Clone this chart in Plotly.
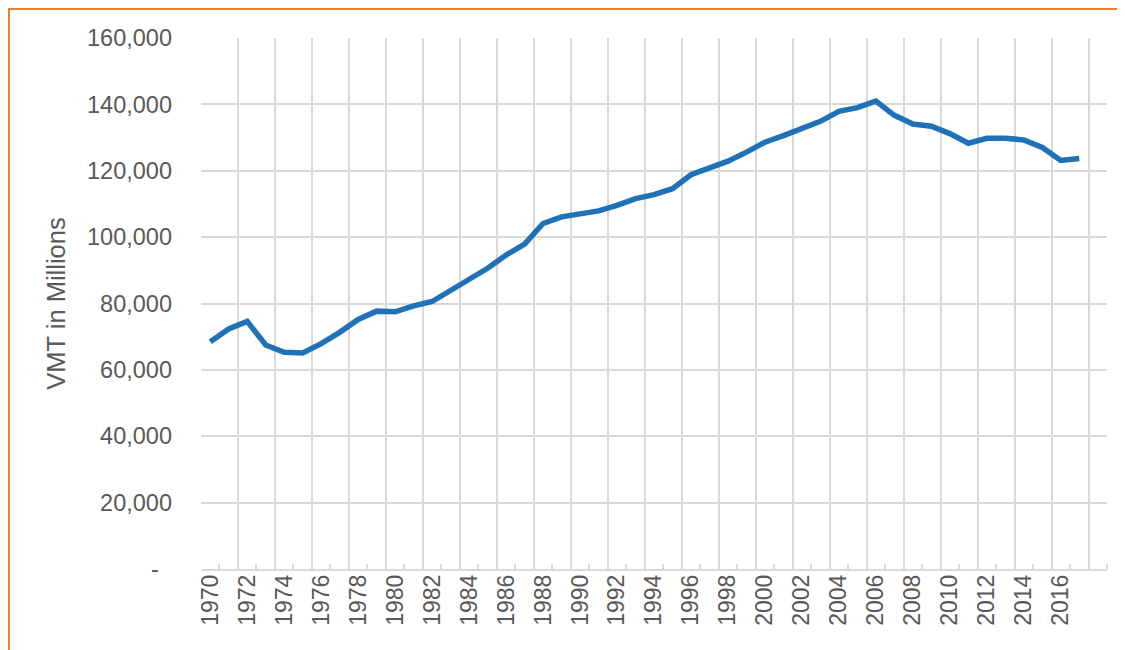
import plotly.graph_objects as go

years = list(range(1970, 2018))
vmt = [68500, 72300, 74600, 67500, 65300, 65100, 67900, 71300, 75200, 77700,
       77500, 79300, 80600, 83900, 87200, 90600, 94600, 97900, 104100, 106100,
       107000, 107900, 109600, 111600, 112800, 114600, 118800, 120900, 122900, 125600,
       128600, 130600, 132700, 134900, 137900, 139000, 141000, 136700, 134100, 133400,
       131200, 128300, 129800, 129800, 129300, 127000, 123100, 123700]

x_tick_vals = list(range(1970, 2017, 2))
x_tick_text = [str(y) for y in x_tick_vals]
y_tick_vals = [0, 20000, 40000, 60000, 80000, 100000, 120000, 140000, 160000]
y_tick_text = ["-\u00a0\u00a0", "20,000", "40,000", "60,000", "80,000",
               "100,000", "120,000", "140,000", "160,000"]

TXT = "#595959"
GRID = "#d9d9d9"
FONT = "Liberation Sans, Arial, sans-serif"

fig = go.Figure()
fig.add_trace(go.Scatter(x=years, y=vmt, mode="lines",
                         line=dict(color="#1f72b8", width=5.5),
                         hoverinfo="x+y", showlegend=False))
# invisible trace to anchor label axis
fig.add_trace(go.Scatter(x=[years[0]], y=[vmt[0]], xaxis="x2", mode="markers",
                         marker=dict(opacity=0), showlegend=False, hoverinfo="skip"))

W, H = 1125, 650
L, R, T, B = 193, 26, 30, 89
pw, ph = W - L - R, H - T - B

fig.update_layout(
    width=W, height=H,
    margin=dict(l=L, r=R, t=T, b=B, autoexpand=False),
    paper_bgcolor="white", plot_bgcolor="white",
    font=dict(family=FONT, color=TXT, size=23),
    xaxis=dict(
        range=[1969.5, 2018.5], tick0=1969.5, dtick=2,
        showticklabels=False, showgrid=True, gridcolor=GRID, gridwidth=2,
        ticks="", showline=True, linecolor=GRID, linewidth=2,
        minor=dict(tick0=1969.5, dtick=1, ticks="inside", ticklen=5,
                   tickcolor=GRID, tickwidth=2, showgrid=False),
        zeroline=False, fixedrange=True,
    ),
    xaxis2=dict(
        overlaying="x", side="bottom", anchor="y",
        range=[1969.5, 2018.5], tickmode="array",
        tickvals=x_tick_vals, ticktext=x_tick_text, tickangle=-90,
        showgrid=False, showline=False, ticks="", zeroline=False,
        ticklabelstandoff=0, tickfont=dict(size=23, color=TXT),
    ),
    yaxis=dict(
        range=[0, 160000], tickmode="array",
        tickvals=y_tick_vals, ticktext=y_tick_text,
        showgrid=True, gridcolor=GRID, gridwidth=2,
        showline=False, zeroline=False, ticks="",
        ticklabelstandoff=28, tickfont=dict(size=23.5, color=TXT),
        title=dict(text="VMT in Millions", font=dict(size=25.5, color=TXT), standoff=14),
    ),
    shapes=[dict(type="rect", xref="paper", yref="paper",
                 x0=(1 - L) / pw, x1=1.2, y0=-0.4, y1=1 + (T - 1) / ph,
                 line=dict(color="#ED7D31", width=2), fillcolor="rgba(0,0,0,0)",
                 layer="above")],
)

fig.write_html("out.html")
